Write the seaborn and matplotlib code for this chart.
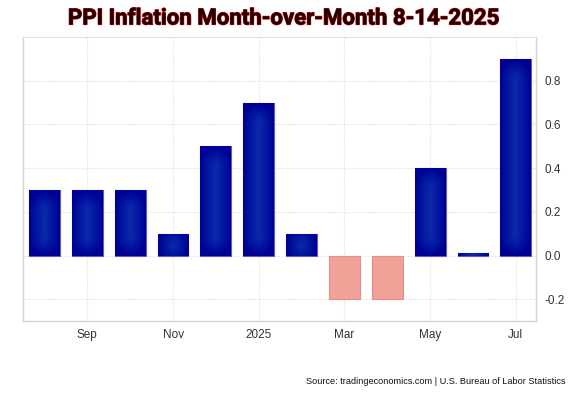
import numpy as np
import pandas as pd
import matplotlib
matplotlib.use("Agg")
import matplotlib.pyplot as plt
import matplotlib.patheffects as pe
from matplotlib.colors import LinearSegmentedColormap
import seaborn as sns

months = ["Aug 2024", "Sep 2024", "Oct 2024", "Nov 2024", "Dec 2024", "Jan 2025",
          "Feb 2025", "Mar 2025", "Apr 2025", "May 2025", "Jun 2025", "Jul 2025"]
values = [0.3, 0.3, 0.3, 0.1, 0.5, 0.7, 0.1, -0.2, -0.2, 0.4, 0.01, 0.9]
tick_labels = ["Sep", "Nov", "2025", "Mar", "May", "Jul"]
tick_months = ["Sep 2024", "Nov 2024", "Jan 2025", "Mar 2025", "May 2025", "Jul 2025"]
yticks = [-0.2, 0.0, 0.2, 0.4, 0.6, 0.8]

sns.set_theme(style="white")
plt.rcParams["font.family"] = ["Liberation Sans", "DejaVu Sans"]

fig = plt.figure(figsize=(5.77, 3.93), dpi=100)
ax = fig.add_axes([0.04, 0.183, 0.889, 0.723])

df = pd.DataFrame({"month": months, "value": values})
pos_color = "#00009c"
neg_color = "#f2a198"
palette = {m: (pos_color if v >= 0 else neg_color) for m, v in zip(months, values)}
sns.barplot(data=df, x="month", y="value", hue="month", palette=palette,
            legend=False, width=0.72, ax=ax, saturation=1, zorder=3)

cmap = LinearSegmentedColormap.from_list("g", ["#0a2aa8", "#051ea4", "#00109c", "#000094"])
yy, xx = np.mgrid[-1:1:100j, -1:1:100j]
for patch, v in zip(ax.patches, values):
    x0, y0 = patch.get_x(), patch.get_y()
    w, h = patch.get_width(), patch.get_height()
    if v >= 0:
        patch.set_edgecolor("#5c5cb8")
        patch.set_linewidth(0.8)
        hp = abs(h) * 216.0
        wp = w * 43.0
        half = max(hp / 2 - wp * 0.6, 0)
        ry = np.clip((np.abs(yy) * hp / 2 - half) / (wp * 0.6), 0, None)
        d = np.sqrt(xx ** 2 + ry ** 2)
        im = ax.imshow(np.clip(d, 0, 1), extent=[x0, x0 + w, y0, y0 + h], cmap=cmap,
                       aspect="auto", zorder=3.5, vmin=0, vmax=1, origin="lower",
                       interpolation="bilinear")
        im.set_clip_path(patch)
    else:
        patch.set_edgecolor("#e39086")
        patch.set_linewidth(0.8)

ax.set_xlim(-0.5, 11.47)
ax.set_ylim(-0.3, 1.0)

ax.yaxis.tick_right()
ax.set_yticks(yticks)
ax.set_yticklabels([f"{t:.1f}" for t in yticks], fontsize=8.5, color="#333333")
idx = [months.index(m) for m in tick_months]
ax.set_xticks(idx)
ax.set_xticklabels(tick_labels, fontsize=8.5, color="#333333")
ax.tick_params(axis="both", length=0, pad=6)
ax.set_xlabel("")
ax.set_ylabel("")

ax.grid(True, color="#e2e2e2", linestyle=(0, (1, 1)), linewidth=0.8, zorder=0)
ax.set_axisbelow(True)
for side in ["left", "right", "bottom"]:
    ax.spines[side].set_color("#d4d4d4")
    ax.spines[side].set_linewidth(1.0)
ax.spines["top"].set_color("#e2e2e2")
ax.spines["top"].set_linestyle((0, (1, 1)))
ax.spines["top"].set_linewidth(0.8)

fig.text(0.492, 0.953, "PPI Inflation Month-over-Month 8-14-2025",
         ha="center", va="center", fontsize=16, fontweight="bold",
         family=["Roboto", "DejaVu Sans"], color="#1a0000",
         path_effects=[pe.withStroke(linewidth=0.9, foreground="#c00000")])
fig.text(0.98, 0.03, "Source: tradingeconomics.com | U.S. Bureau of Labor Statistics",
         ha="right", va="center", fontsize=6.6, color="#111111")

fig.savefig("out.png", dpi=100)
